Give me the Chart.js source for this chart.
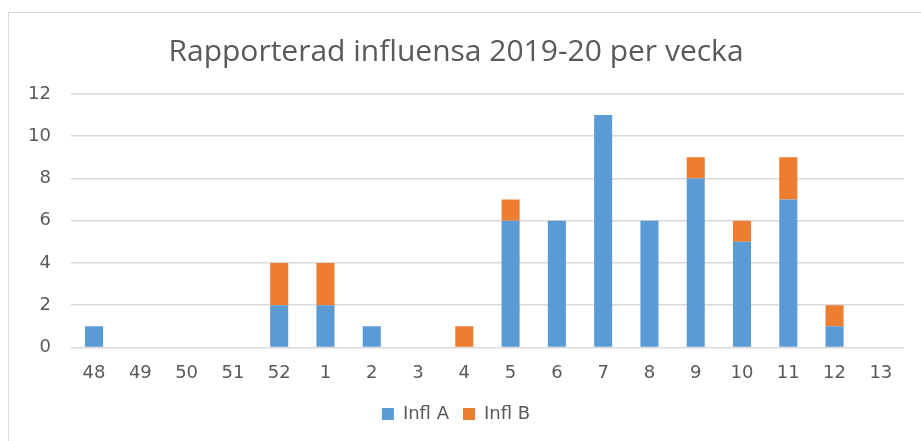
<!DOCTYPE html>
<html>
<head>
<meta charset="utf-8">
<script src="https://cdn.jsdelivr.net/npm/chart.js@4.4.1/dist/chart.umd.min.js"></script>
<style>
  html, body { margin: 0; padding: 0; background: #fff; }
  #frame { position: absolute; left: 8px; top: 12px; width: 940px; height: 460px; border: 1px solid #d9d9d9; }
  #wrap { position: absolute; left: 0; top: 0; width: 921px; height: 441px; }
</style>
</head>
<body>
<div id="frame"></div>
<div id="wrap"><canvas id="chart" width="921" height="441"></canvas></div>
<script>
// weeks of the 2019-20 season
const weeks = ["48", "49", "50", "51", "52", "1", "2", "3", "4", "5", "6", "7", "8", "9", "10", "11", "12", "13"];
// reported cases per week
const inflA = [1, 0, 0, 0, 2, 2, 1, 0, 0, 6, 6, 11, 6, 8, 5, 7, 1, 0];
const inflB = [0, 0, 0, 0, 2, 2, 0, 0, 1, 1, 0, 0, 0, 1, 1, 2, 1, 0];
const yTicks = [0, 2, 4, 6, 8, 10, 12];

const ctx = document.getElementById("chart");
const myChart = new Chart(ctx, {
  type: "bar",
  data: {
    labels: weeks,
    datasets: [
      { label: "Infl A", data: inflA, backgroundColor: "#5b9bd5", barPercentage: 0.78, categoryPercentage: 0.5 },
      { label: "Infl B", data: inflB, backgroundColor: "#ed7d31", barPercentage: 0.78, categoryPercentage: 0.5 },
    ],
  },
  options: {
    responsive: false,
    animation: false,
    layout: { padding: { left: 8, right: 17, top: 34, bottom: 8 } },
    plugins: {
      title: {
        display: true,
        text: "Rapporterad influensa 2019-20 per vecka",
        color: "#595959",
        font: { family: "Open Sans", size: 30, weight: "normal" },
        padding: { top: 0, bottom: 24 },
      },
      legend: {
        position: "bottom",
        labels: {
          color: "#595959",
          font: { family: "DejaVu Sans", size: 18 },
          boxWidth: 12,
          boxHeight: 12,
          padding: 14,
        },
      },
      tooltip: { enabled: false },
    },
    scales: {
      x: {
        stacked: true,
        grid: { display: false },
        border: { display: false },
        ticks: { color: "#595959", font: { family: "DejaVu Sans", size: 18 }, padding: 7 },
      },
      y: {
        stacked: true,
        min: 0,
        max: 12,
        afterBuildTicks: (axis) => { axis.ticks = yTicks.map((v) => ({ value: v })); },
        grid: { color: "#d9d9d9", lineWidth: 1.5, drawTicks: false },
        border: { display: false },
        ticks: { color: "#595959", font: { family: "DejaVu Sans", size: 18 }, padding: 20 },
      },
    },
  },
});
</script>
</body>
</html>
